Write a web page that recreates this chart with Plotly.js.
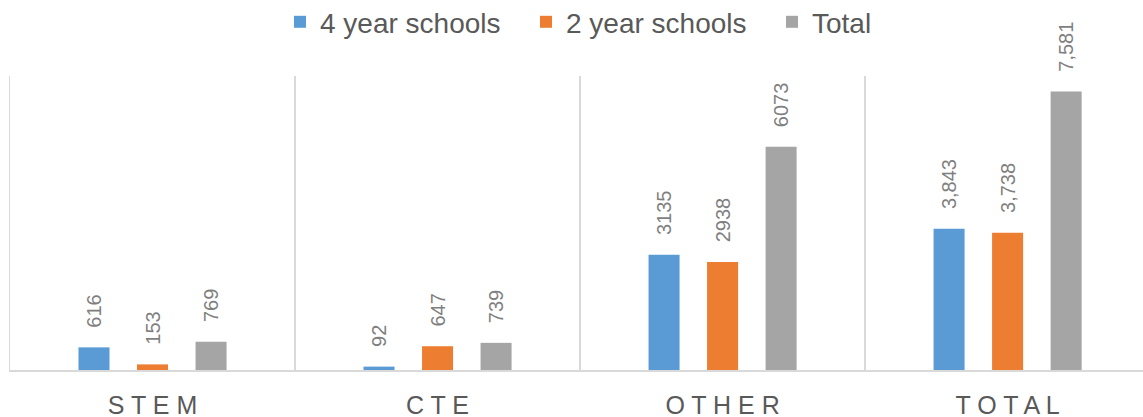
<!DOCTYPE html>
<html>
<head>
<meta charset="utf-8">
<script src="https://cdn.plot.ly/plotly-3.0.1.min.js"></script>
<style>
  html, body { margin: 0; padding: 0; background: #ffffff; overflow: hidden; }
  #chart { width: 1143px; height: 417px; }
</style>
</head>
<body>
<div id="chart"></div>
<script>
const categories = ['STEM', 'CTE', 'OTHER', 'TOTAL'];
const tickLabels = ['S T E M', 'C T E', 'O T H E R', 'T O T A L'];
const seriesNames = ['4 year schools', '2 year schools', 'Total'];
const fourYear = [616, 92, 3135, 3843];
const twoYear = [153, 647, 2938, 3738];
const totals = [769, 739, 6073, 7581];
const fourYearLabels = ['616', '92', '3135', '3,843'];
const twoYearLabels = ['153', '647', '2938', '3,738'];
const totalLabels = ['769', '739', '6073', '7,581'];
const colors = ['#5B9BD5', '#ED7D31', '#A5A5A5'];

const FONT = 'Liberation Sans, Arial, sans-serif';
const pad = '\u00a0\u00a0\u00a0';

function barTrace(name, values, labels, color) {
  return {
    type: 'bar',
    name: name,
    x: categories,
    y: values,
    text: labels.map(t => pad + t),
    textposition: 'outside',
    textangle: -90,
    constraintext: 'none',
    cliponaxis: false,
    textfont: { family: FONT, size: 20, color: '#7F7F7F' },
    marker: { color: color, line: { width: 0 } },
    hoverinfo: 'x+y'
  };
}

const data = [
  barTrace(seriesNames[0], fourYear, fourYearLabels, colors[0]),
  barTrace(seriesNames[1], twoYear, twoYearLabels, colors[1]),
  barTrace(seriesNames[2], totals, totalLabels, colors[2])
];

const layout = {
  width: 1143,
  height: 417,
  margin: { l: 10, r: 0, t: 76, b: 47, pad: 0 },
  paper_bgcolor: '#ffffff',
  plot_bgcolor: '#ffffff',
  barmode: 'group',
  bargap: 0.384,
  bargroupgap: 0.47,
  font: { family: FONT, color: '#595959' },
  showlegend: true,
  legend: {
    orientation: 'h',
    xref: 'paper',
    yref: 'container',
    x: 0.2383,
    xanchor: 'left',
    y: 0.947,
    yanchor: 'middle',
    entrywidth: 201,
    entrywidthmode: 'pixels',
    font: { family: FONT, size: 28, color: '#595959' },
    bgcolor: 'rgba(0,0,0,0)'
  },
  xaxis: {
    type: 'category',
    range: [-0.5, 3.475],
    tickvals: categories,
    ticktext: tickLabels,
    tickson: 'boundaries',
    ticks: '',
    ticklabelstandoff: 12,
    showgrid: true,
    gridcolor: '#D9D9D9',
    gridwidth: 1.5,
    showline: true,
    linecolor: '#D9D9D9',
    linewidth: 1.5,
    tickfont: { family: FONT, size: 25, color: '#595959' },
    fixedrange: true
  },
  yaxis: {
    range: [0, 8000],
    showgrid: false,
    zeroline: false,
    showticklabels: false,
    ticks: '',
    showline: true,
    linecolor: '#D9D9D9',
    linewidth: 1.5,
    fixedrange: true
  }
};

Plotly.newPlot('chart', data, layout, { displayModeBar: false, staticPlot: true });
</script>
</body>
</html>
